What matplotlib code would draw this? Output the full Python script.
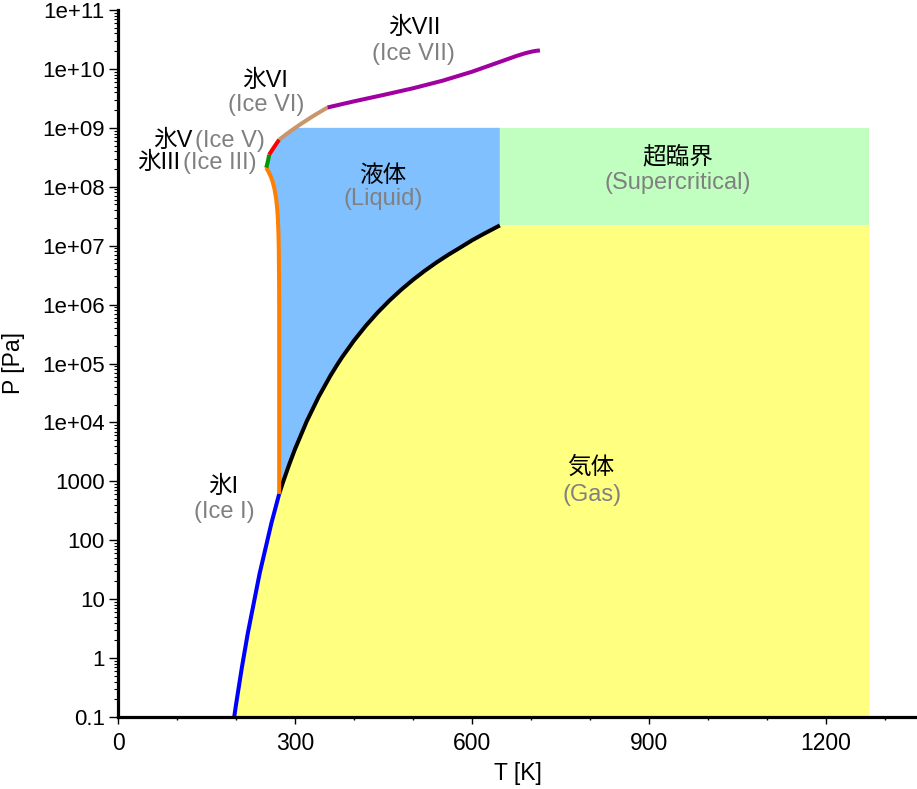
import numpy as np
import matplotlib
matplotlib.use("Agg")
import matplotlib.pyplot as plt
from matplotlib.ticker import FixedLocator, MultipleLocator, LogLocator, NullFormatter

# ---------------- data ----------------
# sublimation curve (ice Ih / vapour)  T [K], P [Pa]
subl_T = [195.0, 200.0, 210.0, 220.0, 240.0, 260.0, 273.16]
subl_P = [0.0739, 0.1624, 0.7013, 2.651, 27.27, 195.8, 611.657]

# vaporization curve (liquid / vapour)
vap_T = [273.16, 280.0, 290.0, 300.0, 320.0, 340.0, 360.0, 373.124, 380.0, 400.0,
         420.0, 440.0, 460.0, 480.0, 500.0, 520.0, 540.0, 560.0, 580.0, 600.0,
         620.0, 640.0, 647.096]
vap_P = [611.657, 991.8, 1920.0, 3537.0, 10546.0, 27188.0, 62194.0, 101325.0, 128960.0, 245770.0,
         437240.0, 733680.0, 1170800.0, 1791800.0, 2639200.0, 3762600.0, 5211200.0, 7036600.0,
         9290800.0, 12345000.0, 15901000.0, 20265000.0, 22064000.0]

# melting curves
iceI_T = [273.16, 273.15, 273.10, 273.0, 272.5, 272.0, 271.0, 270.0, 268.0, 265.0,
          262.0, 260.0, 258.0, 255.0, 253.0, 251.165]
iceI_P = [611.657, 1.36e5, 8.14e5, 2.163e6, 8.817e6, 1.532e7, 2.791e7, 3.996e7, 6.265e7, 9.366e7,
          1.218e8, 1.394e8, 1.562e8, 1.803e8, 1.959e8, 2.099e8]

iceIII_T = [251.165, 253.0, 255.0, 256.164]
iceIII_P = [2.099e8, 2.444e8, 3.032e8, 3.501e8]

iceV_T = [256.164, 260.0, 265.0, 270.0, 273.31]
iceV_P = [3.501e8, 4.026e8, 4.796e8, 5.676e8, 6.324e8]

iceVI_T = [273.31, 290.0, 300.24, 310.0, 330.0, 355.0]
iceVI_P = [6.324e8, 8.455e8, 1.0e9, 1.166e9, 1.570e9, 2.216e9]

iceVII_T = [355.0, 400.0, 450.0, 500.0, 550.0, 600.0, 650.0, 675.0, 690.0, 700.0, 707.0, 715.0]
iceVII_P = [2.216e9, 2.817e9, 3.619e9, 4.695e9, 6.309e9, 8.964e9, 1.3488e10, 1.6558e10,
            1.8449e10, 1.9553e10, 2.0170e10, 2.0618e10]

T_crit, P_crit = 647.096, 22.064e6
T_max = 1273.15
P_top = 1.0e9
P_floor = 0.01

x_ticks = [0, 300, 600, 900, 1200]
y_ticks = [0.1, 1, 10, 100, 1000, 1e4, 1e5, 1e6, 1e7, 1e8, 1e9, 1e10, 1e11]
y_tick_labels = ["0.1", "1", "10", "100", "1000", "1e+04", "1e+05", "1e+06",
                 "1e+07", "1e+08", "1e+09", "1e+10", "1e+11"]

labels_jp = ["氷VII", "氷VI", "氷V", "氷III", "液体", "超臨界", "気体", "氷I"]
labels_en = ["(Ice VII)", "(Ice VI)", "(Ice V)", "(Ice III)", "(Liquid)",
             "(Supercritical)", "(Gas)", "(Ice I)"]

# ---------------- drawing ----------------
FAM = ["Liberation Sans", "Noto Sans CJK JP", "DejaVu Sans"]
plt.rcParams["font.family"] = FAM

fig = plt.figure(figsize=(9.17, 7.89), dpi=100)
ax = fig.add_axes([118 / 917, 72 / 789, 799 / 917, 707 / 789])
ax.set_yscale("log")
ax.set_xlim(0, 1354)
ax.set_ylim(0.1, 1e11)

c_gas = "#FFFF80"
c_liq = "#80C0FF"
c_sc = "#C0FFC0"

# gas region
gas_T = [subl_T[0]] + subl_T + vap_T[1:] + [T_max, T_max]
gas_P = [P_floor] + subl_P + vap_P[1:] + [P_crit, P_floor]
ax.fill(gas_T, gas_P, color=c_gas, lw=0, zorder=1)

# liquid region
iVI = iceVI_P.index(P_top)
liq_T = (iceI_T + iceIII_T[1:] + iceV_T[1:] + iceVI_T[1:iVI + 1]
         + [T_crit] + vap_T[::-1])
liq_P = (iceI_P + iceIII_P[1:] + iceV_P[1:] + iceVI_P[1:iVI + 1]
         + [P_top] + vap_P[::-1])
ax.fill(liq_T, liq_P, color=c_liq, lw=0, zorder=1)

# supercritical region
ax.fill_between([T_crit, T_max], [P_crit, P_crit], [P_top, P_top],
                color=c_sc, lw=0, zorder=1)

lw = 2.9
kw = dict(lw=lw, zorder=3, solid_capstyle="butt", solid_joinstyle="round")
ax.plot(subl_T, subl_P, color="#0000FF", **kw)
ax.plot(vap_T, vap_P, color="#000000", **kw)
ax.plot(iceI_T, iceI_P, color="#FF8000", **kw)
ax.plot(iceIII_T, iceIII_P, color="#009900", **kw)
ax.plot(iceV_T, iceV_P, color="#FF0000", **kw)
ax.plot(iceVI_T, iceVI_P, color="#C8966A", **kw)
ax.plot(iceVII_T, iceVII_P, color="#A000A0", **kw)

# spines / ticks
for s in ["top", "right"]:
    ax.spines[s].set_visible(False)
for s in ["left", "bottom"]:
    ax.spines[s].set_linewidth(2.3)
    ax.spines[s].set_zorder(5)

ax.xaxis.set_major_locator(FixedLocator(x_ticks))
ax.xaxis.set_minor_locator(MultipleLocator(100))
ax.yaxis.set_major_locator(FixedLocator(y_ticks))
ax.set_yticklabels(y_tick_labels)
ax.yaxis.set_minor_locator(LogLocator(base=10, subs=np.arange(2, 10), numticks=200))
ax.yaxis.set_minor_formatter(NullFormatter())

ax.tick_params(axis="x", which="major", length=5, width=1.0, labelsize=16.5, pad=6)
ax.tick_params(axis="x", which="minor", length=2.5, width=1.0)
ax.tick_params(axis="y", which="major", length=6.5, width=1.0, labelsize=16, pad=3)
ax.tick_params(axis="y", which="minor", length=3.2, width=0.8)

ax.set_xlabel("T [K]", fontsize=16.5, labelpad=5)
ax.set_ylabel("P [Pa]", fontsize=16.5, labelpad=12)

# labels
fs = 17
gray = "#808080"

def lab(t_jp, t_en, x_jp, y_jp, x_en, y_en, ha_jp="center", ha_en="center"):
    ax.text(x_jp, y_jp, t_jp, ha=ha_jp, va="center", fontsize=fs, color="black",
            family=FAM, zorder=6)
    ax.text(x_en, y_en, t_en, ha=ha_en, va="center", fontsize=fs, color=gray,
            family=FAM, zorder=6)

lab(labels_jp[0], labels_en[0], 501.6, 4.94e10, 500, 1.79e10)
lab(labels_jp[1], labels_en[1], 249, 6.2e9, 250.8, 2.44e9)
lab(labels_jp[2], labels_en[2], 125.4, 5.97e8, 130.5, 5.97e8, ha_jp="right", ha_en="left")
lab(labels_jp[3], labels_en[3], 105, 2.53e8, 110, 2.53e8, ha_jp="right", ha_en="left")
lab(labels_jp[4], labels_en[4], 449, 1.52e8, 449, 6.2e7)
lab(labels_jp[5], labels_en[5], 949, 3.19e8, 949, 1.16e8)
lab(labels_jp[6], labels_en[6], 801.6, 1683, 803, 586)
lab(labels_jp[7], labels_en[7], 178, 801, 179.6, 301)

fig.savefig("out.png", dpi=100)
